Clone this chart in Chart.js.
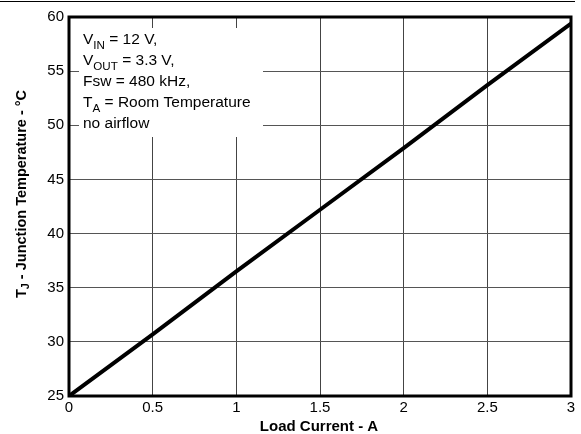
<!DOCTYPE html>
<html><head><meta charset="utf-8">
<script src="https://cdn.jsdelivr.net/npm/chart.js@4/dist/chart.umd.min.js"></script>
<style>
html,body{margin:0;padding:0;background:#fff;}
#wrap{position:relative;width:581px;height:434px;}
#topline{position:absolute;left:0;top:1px;width:575px;height:0;border-top:1.5px solid #000;}
</style></head><body>
<div id="wrap"><canvas id="c" width="581" height="434"></canvas><div id="topline"></div></div>
<script>
const loadCurrent = [0, 0.5, 1, 1.5, 2, 2.5, 3];
const junctionTemp = [25, 30.7, 36.5, 42.2, 47.9, 53.7, 59.4];
const xTicks = [0, 0.5, 1, 1.5, 2, 2.5, 3];
const yTicks = [25, 30, 35, 40, 45, 50, 55, 60];
const xTitle = 'Load Current - A';
const yTitleParts = [['T',''],['J','sub'],[' - Junction Temperature - °C','']];
const noteLines = [
  [['V',''],['IN','sub'],[' = 12 V,','']],
  [['V',''],['OUT','sub'],[' = 3.3 V,','']],
  [['Fsw = 480 kHz,','']],
  [['T',''],['A','sub'],[' = Room Temperature','']],
  [['no airflow','']]
];
const FONT = "'Liberation Sans', Arial, Helvetica, sans-serif";

function drawParts(ctx, parts, x, y, size, bold) {
  let cx = x;
  for (const [t, kind] of parts) {
    const s = kind === 'sub' ? size * 0.75 : size;
    ctx.font = (bold ? 'bold ' : '') + s + 'px ' + FONT;
    ctx.fillText(t, cx, kind === 'sub' ? y + size * 0.3 : y);
    cx += ctx.measureText(t).width;
  }
  return cx - x;
}
function measureParts(ctx, parts, size, bold) {
  let w = 0;
  for (const [t, kind] of parts) {
    const s = kind === 'sub' ? size * 0.75 : size;
    ctx.font = (bold ? 'bold ' : '') + s + 'px ' + FONT;
    w += ctx.measureText(t).width;
  }
  return w;
}

const decor = {
  id: 'decor',
  beforeDatasetsDraw(chart) {
    const ctx = chart.ctx;
    ctx.save();
    ctx.fillStyle = '#fff';
    ctx.fillRect(79, 28, 184, 109);
    ctx.fillStyle = '#000';
    ctx.textBaseline = 'alphabetic';
    ctx.textAlign = 'left';
    noteLines.forEach((ln, i) => drawParts(ctx, ln, 83, 44 + i * 21, 15.5, false));
    ctx.restore();
  },
  afterDraw(chart) {
    const ctx = chart.ctx, a = chart.chartArea;
    ctx.save();
    ctx.strokeStyle = '#000';
    ctx.lineWidth = 3;
    ctx.strokeRect(a.left, a.top, a.right - a.left, a.bottom - a.top);
    ctx.fillStyle = '#000';
    ctx.textBaseline = 'middle';
    ctx.textAlign = 'center';
    ctx.font = 'bold 15px ' + FONT;
    ctx.fillText(xTitle, 319, 427);
    ctx.translate(22, 194);
    ctx.rotate(-Math.PI / 2);
    ctx.textAlign = 'left';
    const w = measureParts(ctx, yTitleParts, 14.5, true);
    drawParts(ctx, yTitleParts, -w / 2, 0, 14.5, true);
    ctx.restore();
  }
};

new Chart(document.getElementById('c'), {
  type: 'line',
  data: {
    datasets: [{
      data: loadCurrent.map((x, i) => ({x, y: junctionTemp[i]})),
      borderColor: '#000',
      borderWidth: 4,
      pointRadius: 0,
      tension: 0,
      fill: false
    }]
  },
  options: {
    responsive: false,
    animation: false,
    devicePixelRatio: 1,
    layout: {padding: {top: 17, right: 10, left: 0, bottom: 0}},
    plugins: {legend: {display: false}, tooltip: {enabled: false}},
    scales: {
      x: {
        type: 'linear', min: 0, max: 3,
        afterBuildTicks: s => { s.ticks = xTicks.map(v => ({value: v})); },
        afterFit: s => { s.height = 38; },
        grid: {color: '#444', lineWidth: 1, drawTicks: false},
        border: {display: false},
        ticks: {color: '#000', padding: 3, maxRotation: 0, autoSkip: false,
          font: {family: FONT, size: 15}, callback: v => String(v)}
      },
      y: {
        type: 'linear', min: 25, max: 60,
        afterBuildTicks: s => { s.ticks = yTicks.map(v => ({value: v})); },
        afterFit: s => { s.width = 69; },
        grid: {color: '#555', lineWidth: 1, drawTicks: false},
        border: {display: false},
        ticks: {color: '#000', padding: 5, autoSkip: false,
          font: {family: FONT, size: 15}, callback: v => String(v)}
      }
    }
  },
  plugins: [decor]
});
</script>
</body></html>
